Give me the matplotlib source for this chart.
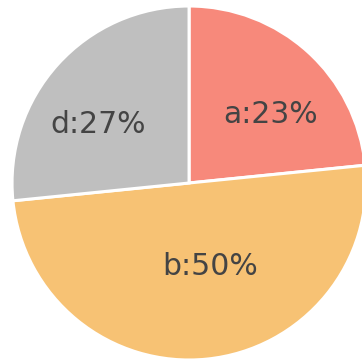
import numpy as np
import matplotlib
matplotlib.use("Agg")
import matplotlib.pyplot as plt

names = ["a", "b", "d"]
shares = [23.4, 50.0, 26.6]
colors = ["#f7897b", "#f7c274", "#bfbfbf"]

# small hand nudges of each label from its wedge centroid, in points
nudge = [(6.5, -8.0), (9.5, -6.5), (-9.5, -8.5)]

fig = plt.figure(figsize=(3.62, 3.60), dpi=100)
ax = fig.add_axes([0, 0, 1, 1])

wedges, _ = ax.pie(shares, colors=colors, startangle=90, counterclock=False,
                   radius=1.0, center=(0, 0),
                   wedgeprops=dict(edgecolor="white", linewidth=2.2))

# put each label on the wedge's centroid
total = sum(shares)
start = 90.0
for name, v, off in zip(names, shares, nudge):
    sweep = 360.0 * v / total
    mid = np.radians(start - sweep / 2)
    half = np.radians(sweep / 2)
    d = 2 * np.sin(half) / (3 * half)
    ax.annotate(f"{name}:{v:.0f}%", (d * np.cos(mid), d * np.sin(mid)),
                xytext=off, textcoords="offset points",
                ha="center", va="center", fontsize=21.5, color="#444444")
    start -= sweep

ax.set_xlim(-1.068, 0.977)
ax.set_ylim(-1.0, 1.034)
ax.set_aspect("auto")
ax.axis("off")

fig.savefig("out.png", dpi=100)
